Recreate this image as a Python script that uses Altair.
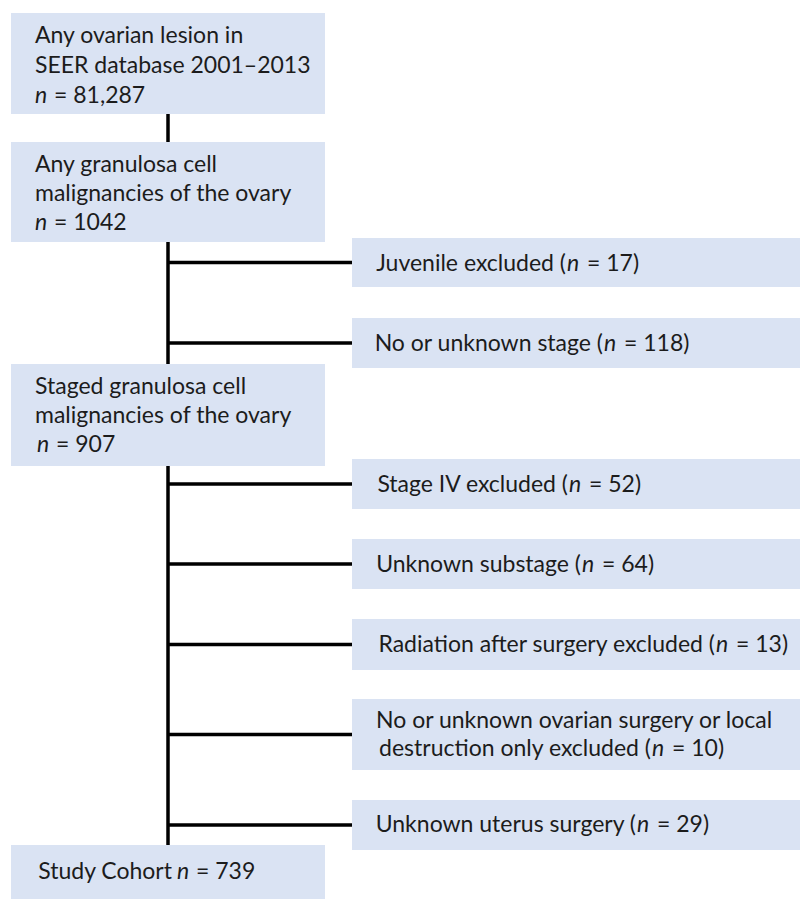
import altair as alt
import pandas as pd

# ---------------- data (text content of the flow chart) ----------------
main_lines = [
    ["Any ovarian lesion in", "SEER database 2001–2013"],
    ["Any granulosa cell", "malignancies of the ovary"],
    ["Staged granulosa cell", "malignancies of the ovary"],
    ["Study Cohort"],
]
main_n = ["81,287", "1042", "907", "739"]

excl_lines = [
    ["Juvenile excluded"],
    ["No or unknown stage"],
    ["Stage IV excluded"],
    ["Unknown substage"],
    ["Radiation after surgery excluded"],
    ["No or unknown ovarian surgery or local", "destruction only excluded"],
    ["Unknown uterus surgery"],
]
excl_n = ["17", "118", "52", "64", "13", "10", "29"]

# ---------------- layout (reference pixel frame) ----------------
main_box_x = (11, 325)
main_box_y = [(13, 114), (142, 242), (364, 466), (845, 899)]
main_text_x = 35
main_text_y = [[43, 73, 103], [172, 201, 230], [394, 423, 452], [879]]
main_n_x = [35, 35, 37, 177]

excl_box_x = (352, 808)
excl_box_y = [(238, 287), (318, 368), (459, 509), (539, 589), (619, 670), (699, 770), (800, 850)]
excl_text_x = 376
excl_text_y = [[271], [351], [492], [572], [652], [728, 756], [832]]
excl_n_x = [567, 604, 569, 582, 716, 652, 637]

spine_x = 168
FONT = "Lato"
FSIZE = 23
BOX_FILL = "#dae3f3"
TXT = "#1c1c1c"

# ---------------- build tables ----------------
boxes = []
for (y0, y1) in main_box_y:
    boxes.append(dict(x=main_box_x[0], x2=main_box_x[1], y=y0, y2=y1))
for (y0, y1) in excl_box_y:
    boxes.append(dict(x=excl_box_x[0], x2=excl_box_x[1], y=y0, y2=y1))
boxes = pd.DataFrame(boxes)

rules = []
for a, b in zip(main_box_y[:-1], main_box_y[1:]):
    rules.append(dict(x=spine_x, x2=spine_x, y=a[1], y2=b[0]))
for (y0, y1) in excl_box_y:
    yc = (y0 + y1) / 2
    rules.append(dict(x=spine_x, x2=excl_box_x[0], y=yc, y2=yc))
rules = pd.DataFrame(rules)

plain_left, plain_right, italic = [], [], []
for i, lines in enumerate(main_lines):
    ys = main_text_y[i]
    nx = main_n_x[i]
    if len(ys) > len(lines):
        for line, y in zip(lines, ys):
            plain_left.append(dict(x=main_text_x, y=y, text=line))
        ny = ys[-1]
    else:
        for line, y in zip(lines[:-1], ys[:-1]):
            plain_left.append(dict(x=main_text_x, y=y, text=line))
        ny = ys[-1]
        plain_right.append(dict(x=nx - 5, y=ny, text=lines[-1]))
    italic.append(dict(x=nx, y=ny, text="n"))
    plain_left.append(dict(x=nx + 19, y=ny, text="= " + main_n[i]))

for i, lines in enumerate(excl_lines):
    ys = excl_text_y[i]
    nx = excl_n_x[i]
    for line, y in zip(lines[:-1], ys[:-1]):
        plain_left.append(dict(x=excl_text_x, y=y, text=line))
    ny = ys[-1]
    plain_right.append(dict(x=nx - 1, y=ny, text=lines[-1] + " ("))
    italic.append(dict(x=nx, y=ny, text="n"))
    plain_left.append(dict(x=nx + 20, y=ny, text="= " + excl_n[i] + ")"))

plain_left = pd.DataFrame(plain_left)
plain_right = pd.DataFrame(plain_right)
italic = pd.DataFrame(italic)

xs = alt.Scale(domain=[8, 800], nice=False, zero=False, clamp=True)
ys_ = alt.Scale(domain=[8, 899], nice=False, zero=False, reverse=True)


def X(f="x"):
    return alt.X(f + ":Q", scale=xs, axis=None)


def Y(f="y"):
    return alt.Y(f + ":Q", scale=ys_, axis=None)


rule_layer = alt.Chart(rules).mark_rule(color="black", strokeWidth=3.5).encode(
    x=X(), x2="x2:Q", y=Y(), y2="y2:Q"
)
box_layer = alt.Chart(boxes).mark_rect(fill=BOX_FILL, opacity=1, strokeWidth=0).encode(
    x=X(), x2="x2:Q", y=Y(), y2="y2:Q"
)
common = dict(font=FONT, fontSize=FSIZE, color=TXT, baseline="alphabetic")
t_left = alt.Chart(plain_left).mark_text(align="left", **common).encode(
    x=X(), y=Y(), text="text:N"
)
t_right = alt.Chart(plain_right).mark_text(align="right", **common).encode(
    x=X(), y=Y(), text="text:N"
)
t_ital = alt.Chart(italic).mark_text(align="left", fontStyle="italic", **common).encode(
    x=X(), y=Y(), text="text:N"
)

chart = (
    alt.layer(rule_layer, box_layer, t_left, t_right, t_ital)
    .properties(width=792, height=891, padding=0, autosize="none")
    .configure_view(stroke=None)
)

chart.save("out.html", embed_options={"renderer": "svg", "actions": False})
